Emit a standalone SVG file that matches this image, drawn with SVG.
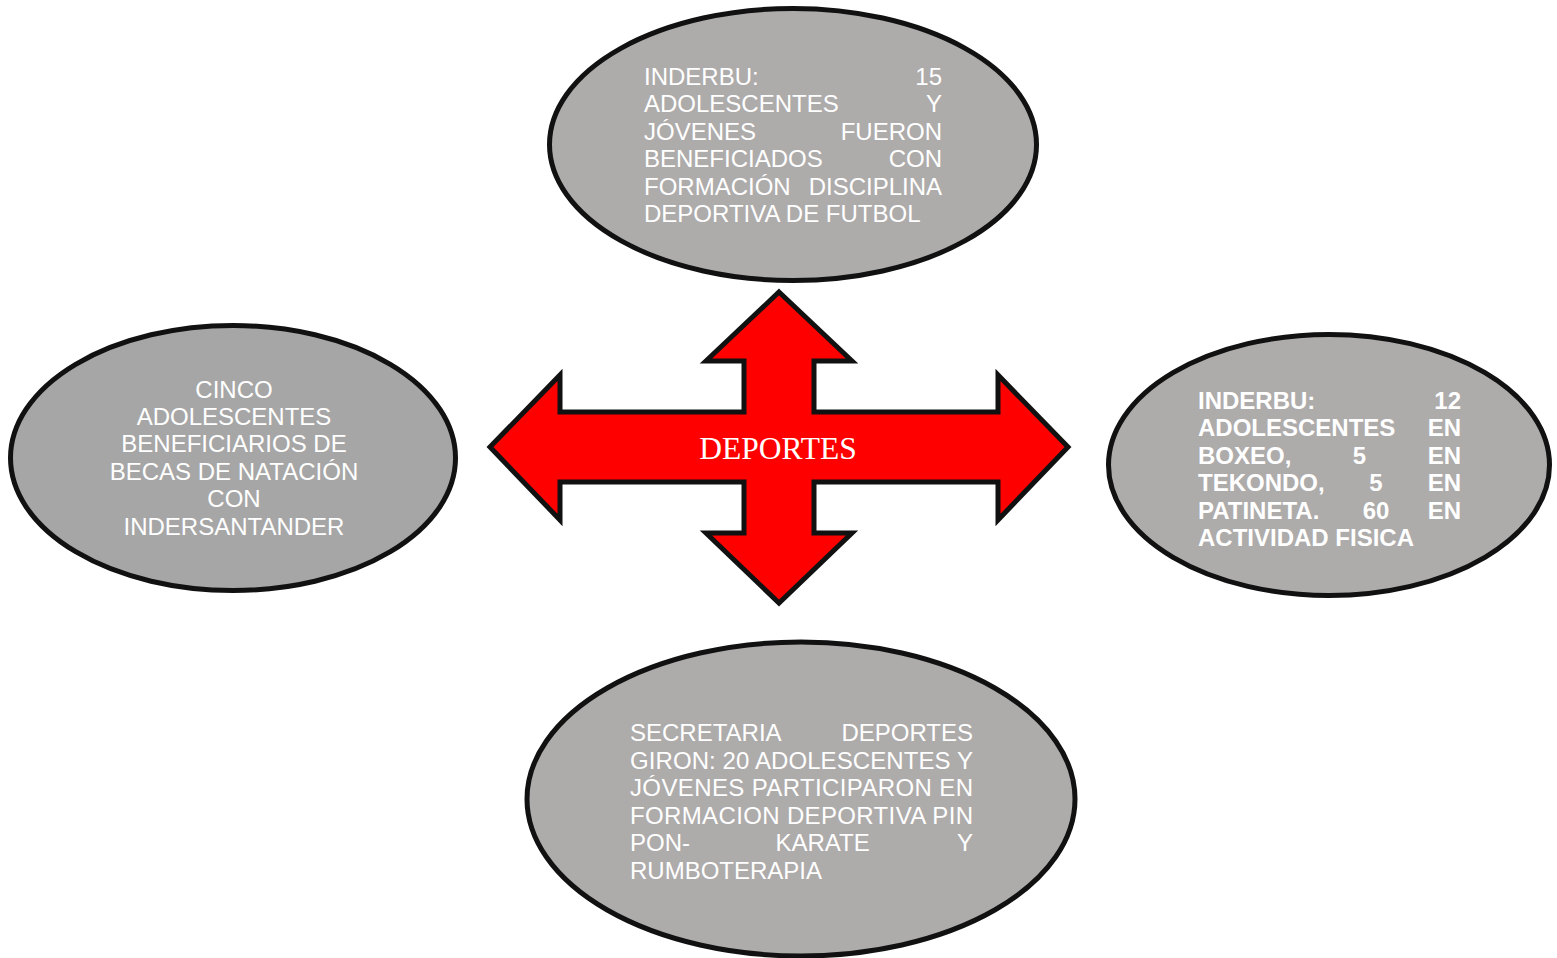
<svg xmlns="http://www.w3.org/2000/svg" width="1557" height="958" viewBox="0 0 1557 958">
<style>
.ell{fill:#aeabab;stroke:#111;stroke-width:5}
.ell2{fill:#a6a6a6;stroke:#111;stroke-width:5}
.t{font-family:"Liberation Sans",Arial,sans-serif;font-size:24px;fill:#fff}
.b{font-weight:bold}
.e{text-anchor:end}
.m{text-anchor:middle}
.title{font-family:"Liberation Serif","Times New Roman",serif;font-size:31.5px;fill:#fff;text-anchor:middle}
</style>
<rect width="1557" height="958" fill="#fff"/>
<g id="connectors">
<polygon points="779,292 852,361 814,361 814,412 998,412 998,375 1068,447 998,520 998,482 814,482 814,533 852,533 779,603 706,533 744,533 744,482 560,482 560,520 490,447 560,375 560,412 744,412 744,361 706,361" fill="#ff0000" stroke="#111" stroke-width="5" stroke-linejoin="miter"/>
</g>
<g id="center">
<text class="title" x="778" y="459">DEPORTES</text>
</g>
<g id="top">
<ellipse class="ell" cx="793" cy="144.5" rx="243.5" ry="136"/>
<text class="t" x="644" y="85">INDERBU:</text><text class="t e" x="942" y="85">15</text>
<text class="t" x="644" y="112.4">ADOLESCENTES</text><text class="t e" x="942" y="112.4">Y</text>
<text class="t" x="644" y="139.8">JÓVENES</text><text class="t e" x="942" y="139.8">FUERON</text>
<text class="t" x="644" y="167.2">BENEFICIADOS</text><text class="t e" x="942" y="167.2">CON</text>
<text class="t" x="644" y="194.6">FORMACIÓN</text><text class="t e" x="942" y="194.6">DISCIPLINA</text>
<text class="t" x="644" y="222">DEPORTIVA DE FUTBOL</text>
</g>
<g id="left">
<ellipse class="ell2" cx="233" cy="458" rx="222.5" ry="132.5"/>
<text class="t m" x="234" y="397.5">CINCO</text>
<text class="t m" x="234" y="424.9">ADOLESCENTES</text>
<text class="t m" x="234" y="452.3">BENEFICIARIOS DE</text>
<text class="t m" x="234" y="479.7">BECAS DE NATACIÓN</text>
<text class="t m" x="234" y="507.1">CON</text>
<text class="t m" x="234" y="534.5">INDERSANTANDER</text>
</g>
<g id="right">
<ellipse class="ell" cx="1329" cy="465" rx="220.5" ry="130.5"/>
<text class="t b" x="1198" y="409">INDERBU:</text><text class="t b e" x="1461" y="409">12</text>
<text class="t b" x="1198" y="436.4">ADOLESCENTES</text><text class="t b e" x="1461" y="436.4">EN</text>
<text class="t b" x="1198" y="463.8">BOXEO,</text><text class="t b m" x="1359.5" y="463.8">5</text><text class="t b e" x="1461" y="463.8">EN</text>
<text class="t b" x="1198" y="491.2">TEKONDO,</text><text class="t b m" x="1376" y="491.2">5</text><text class="t b e" x="1461" y="491.2">EN</text>
<text class="t b" x="1198" y="518.6">PATINETA.</text><text class="t b m" x="1376" y="518.6">60</text><text class="t b e" x="1461" y="518.6">EN</text>
<text class="t b" x="1198" y="546">ACTIVIDAD FISICA</text>
</g>
<g id="bottom">
<ellipse class="ell" cx="801" cy="799" rx="274" ry="157"/>
<text class="t" x="630" y="741">SECRETARIA</text><text class="t e" x="973" y="741">DEPORTES</text>
<text class="t" x="630" y="768.5" textLength="343" lengthAdjust="spacing">GIRON: 20 ADOLESCENTES Y</text>
<text class="t" x="630" y="796" textLength="343" lengthAdjust="spacing">JÓVENES PARTICIPARON EN</text>
<text class="t" x="630" y="823.5" textLength="343" lengthAdjust="spacing">FORMACION DEPORTIVA PIN</text>
<text class="t" x="630" y="851">PON-</text><text class="t" x="775.5" y="851">KARATE</text><text class="t e" x="973" y="851">Y</text>
<text class="t" x="630" y="878.5">RUMBOTERAPIA</text>
</g>
</svg>
